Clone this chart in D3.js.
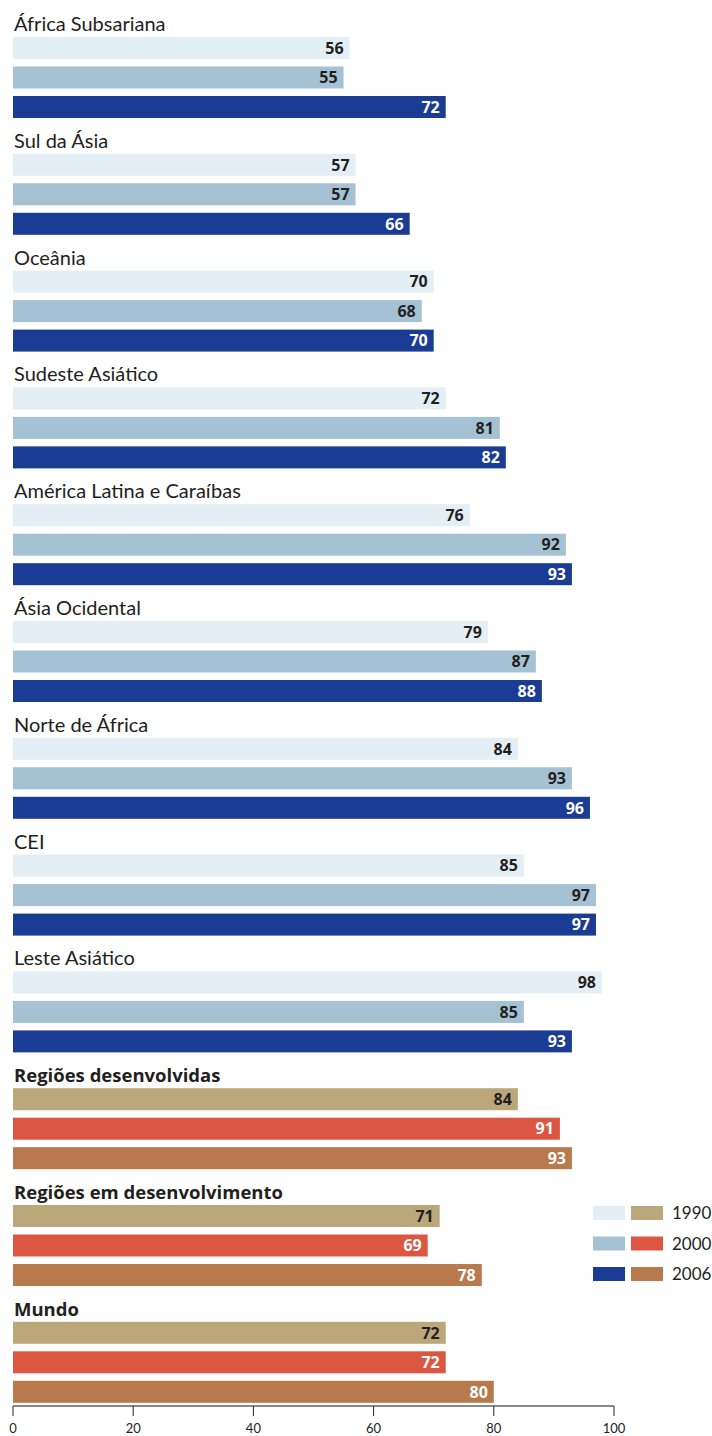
<!DOCTYPE html>
<html>
<head>
<meta charset="utf-8">
<script src="https://cdn.jsdelivr.net/npm/d3@7"></script>
<style>
  html, body { margin: 0; padding: 0; background: #fff; }
  svg { display: block; }
</style>
</head>
<body>
<svg id="chart" width="712" height="1436"></svg>
<script>
const regions = ["África Subsariana", "Sul da Ásia", "Oceânia", "Sudeste Asiático",
  "América Latina e Caraíbas", "Ásia Ocidental", "Norte de África", "CEI", "Leste Asiático",
  "Regiões desenvolvidas", "Regiões em desenvolvimento", "Mundo"];
const aggregates = ["Regiões desenvolvidas", "Regiões em desenvolvimento", "Mundo"];
const years = ["1990", "2000", "2006"];
const v1990 = [56, 57, 70, 72, 76, 79, 84, 85, 98, 84, 71, 72];
const v2000 = [55, 57, 68, 81, 92, 87, 93, 97, 85, 91, 69, 72];
const v2006 = [72, 66, 70, 82, 93, 88, 96, 97, 93, 93, 78, 80];
const xTicks = [0, 20, 40, 60, 80, 100];

const regionColors = ["#e3eef5", "#a4c2d3", "#1b3c94"];
const aggColors = ["#bca77b", "#dc5742", "#b8794d"];
const regionText = ["#231f20", "#231f20", "#fff"];
const aggText = ["#231f20", "#fff", "#fff"];

const series = [v1990, v2000, v2006];
const data = regions.map((r, i) => ({
  region: r,
  agg: aggregates.includes(r),
  values: years.map((y, k) => ({ year: y, k, value: series[k][i] }))
}));

const svg = d3.select("#chart");
const font = "Lato, 'Open Sans', sans-serif";

const x = d3.scaleLinear().domain([0, 100]).range([13, 614]);
const yGroup = d3.scaleBand().domain(regions).range([8, 8 + 12 * 116.8]).padding(0);
const yInner = d3.scaleBand().domain(years).range([29, 110]).paddingInner(0.254).paddingOuter(0);

const g = svg.selectAll("g.group").data(data).join("g")
  .attr("class", "group")
  .attr("transform", d => `translate(0,${yGroup(d.region)})`);

g.append("text")
  .attr("x", 14)
  .attr("y", 23)
  .attr("font-family", d => d.agg ? "'Open Sans', sans-serif" : font)
  .attr("font-size", d => d.agg ? 18.5 : 20)
  .attr("font-weight", d => d.agg ? 700 : 400)
  .attr("fill", "#231f20")
  .text(d => d.region);

const bars = g.selectAll("g.bar").data(d => d.values.map(v => ({ ...v, agg: d.agg }))).join("g")
  .attr("class", "bar");

bars.append("rect")
  .attr("x", x(0))
  .attr("y", d => yInner(d.year))
  .attr("width", d => x(d.value) - x(0))
  .attr("height", yInner.bandwidth())
  .attr("fill", d => d.agg ? aggColors[d.k] : regionColors[d.k]);

bars.append("text")
  .attr("x", d => x(d.value) - 6)
  .attr("y", d => yInner(d.year) + yInner.bandwidth() / 2)
  .attr("dy", "0.36em")
  .attr("text-anchor", "end")
  .attr("font-family", "'Open Sans', sans-serif")
  .attr("font-size", 16)
  .attr("font-weight", 700)
  .attr("fill", d => d.agg ? aggText[d.k] : regionText[d.k])
  .text(d => d.value);

// Axis
const axisY = 1406;
const axis = svg.append("g").attr("transform", `translate(0,${axisY})`);
axis.append("line")
  .attr("x1", x(0)).attr("x2", x(100))
  .attr("y1", 0).attr("y2", 0)
  .attr("stroke", "#8a8a8a").attr("stroke-width", 2);
axis.selectAll("line.tick").data(xTicks).join("line")
  .attr("class", "tick")
  .attr("x1", d => x(d)).attr("x2", d => x(d))
  .attr("y1", 0).attr("y2", 10)
  .attr("stroke", "#222").attr("stroke-width", 1);
axis.selectAll("text.tick").data(xTicks).join("text")
  .attr("class", "tick")
  .attr("x", d => x(d))
  .attr("y", 27)
  .attr("text-anchor", "middle")
  .attr("font-family", font)
  .attr("font-size", 13)
  .attr("fill", "#231f20")
  .text(d => d);

// Legend
const legend = svg.append("g").selectAll("g").data(years).join("g")
  .attr("transform", (d, i) => `translate(593,${1206 + i * 30.5})`);
legend.append("rect").attr("x", 0).attr("y", 0).attr("width", 32).attr("height", 14)
  .attr("fill", (d, i) => regionColors[i]);
legend.append("rect").attr("x", 38).attr("y", 0).attr("width", 32).attr("height", 14)
  .attr("fill", (d, i) => aggColors[i]);
legend.append("text").attr("x", 79).attr("y", 7).attr("dy", "0.36em")
  .attr("font-family", font).attr("font-size", 17).attr("fill", "#231f20")
  .text(d => d);
</script>
</body>
</html>
